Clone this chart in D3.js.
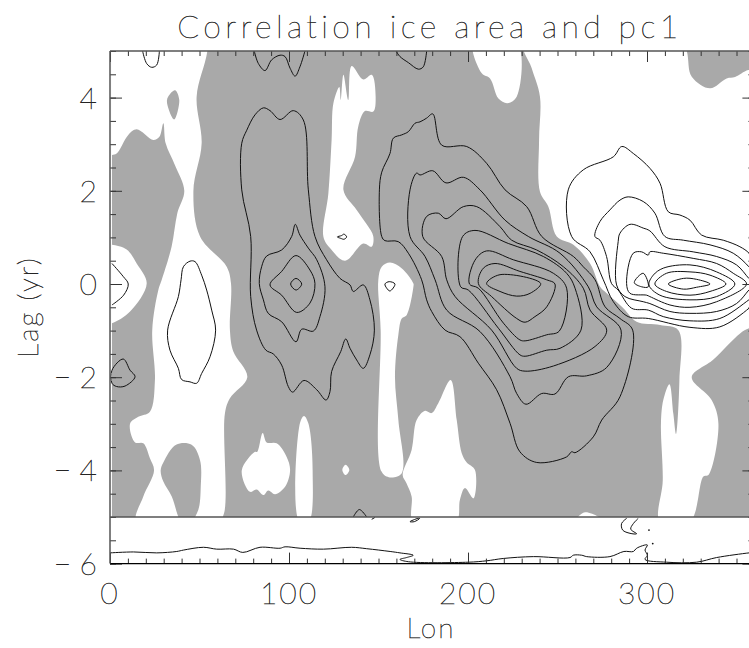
<!DOCTYPE html>
<html>
<head>
<meta charset="utf-8">
<script src="https://cdn.jsdelivr.net/npm/d3@7"></script>
<style>
  html, body { margin: 0; padding: 0; background: #fff; overflow: hidden; }
  text { font-family: Lato, "Open Sans", sans-serif; font-weight: 100; fill: #222; stroke: #222; stroke-width: 0.45; opacity: 0.99; }
</style>
</head>
<body>
<svg width="749" height="648"></svg>
<script>
// tick labels
const lonLabels = [0, 100, 200, 300];
const lagLabels = [4, 2, 0, -2, -4, -6];

// white (not significant) areas, [lon, lag]
const whiteLeft = [[-2,6],[56,6],[54.4,5],[48.4,4.02],[51.2,3.02],[46.6,2],[50.3,1.02],[65.2,.37],[67.6,.01],[67,-.99],[68.9,-1.45],[76.7,-2],[67,-2.45],[64.2,-2.78],[63.7,-4.92],[60.5,-5.1],[14.9,-5.1],[18.6,-4.56],[24.6,-4],[22.3,-3.74],[18.6,-3.42],[14,-3.4],[11.2,-3],[15.8,-2.85],[22.3,-2.74],[25.1,-2.06],[23.6,-.99],[27,-.13],[28.9,.09],[34.4,.8],[37.6,1.52],[41.5,2],[36.3,2.55],[31.1,3.02],[29.8,3.45],[27.6,3.16],[24.2,3.09],[14.9,3.32],[10.2,3.2],[3.7,2.8],[1.1,2.77],[-2,2.77]];
const whiteEdge = [[-2,.84],[1.1,.84],[9.3,.74],[14.9,.44],[20.5,.01],[11.2,-.59],[1.1,-.84],[-2,-.84]];
const whiteMid = [[135,4.68],[141.5,4.39],[146.2,4.49],[148.4,4.02],[147.1,3.7],[142.4,3.71],[138.7,3.38],[136.9,2.73],[130.4,2.02],[137.8,1.59],[143.4,1.28],[147.1,1.02],[146.2,.8],[141.5,.87],[131.3,.5],[122.9,.77],[119.2,1.02],[122,1.95],[123.8,3.09],[124.8,3.88],[128.1,4.23],[128.9,3.95],[130.4,4.49],[133.1,3.95]];
const whiteStrip = [[108.4,-2.83],[110.8,-2.99],[113.2,-4],[111,-5.1],[105.8,-5.1],[106.1,-2.99]];
const whiteBlob = [[73.6,-4],[81,-3.6],[82.3,-3.6],[85.3,-3.2],[87.5,-3.4],[93.1,-3.42],[98.7,-3.71],[100.6,-4],[97.8,-4.35],[92.2,-4.51],[88.4,-4.43],[85.7,-4.53],[81.9,-4.41],[78.2,-4.46]];
const whiteDot = [[129.8,-3.99],[131.6,-3.88],[133.7,-3.99],[131.6,-4.1]];
const whiteColumn = [[149.9,.09],[151.8,.37],[156.4,.46],[162.9,.34],[169.5,.01],[169.5,-.06],[165.7,-.67],[163,-.74],[161.1,-1.09],[159.2,-1.99],[161.1,-2.92],[163,-4.06],[156.4,-4.15],[151.8,-4.03],[151.2,-.99]];
const whiteLower = [[163.5,-4.1],[168.5,-3.56],[171.3,-2.92],[176,-2.72],[179.7,-2.77],[183.4,-2.56],[190.3,-2.06],[193.7,-2.92],[196.5,-3.63],[199.3,-3.83],[203.9,-3.99],[203,-4.6],[198.3,-4.38],[195.5,-4.63],[193.3,-5.1],[169.5,-5.1],[168.5,-4.56],[165.7,-4.28]];
const whiteTop = [[203,5.2],[207.7,4.52],[212.3,4.41],[217,3.98],[222,3.88],[227.2,4.02],[227.2,5.2]];
const whiteBump = [[260.7,-5.05],[265.4,-4.9],[274.7,-5.05]];
const whiteRight = [[231,5.2],[235.6,4.63],[240.2,4.02],[239.7,3.09],[240.2,1.98],[244.9,1.66],[249.6,1.02],[258.9,.84],[268.2,.44],[273.8,-.06],[277.5,-.2],[286.8,-.52],[294.2,-.81],[307.3,-.88],[317.5,-.99],[318.1,-2.06],[316.2,-3.22],[314.7,-2.78],[312.5,-2.15],[309.1,-2.49],[307.8,-2.99],[308.8,-4.21],[307.3,-5.1],[324,-5.1],[331.5,-4.13],[334.3,-4.1],[339.9,-3],[336.1,-2.49],[325,-2],[337.1,-1.62],[352,-1.06],[357,-.95],[365,-.9],[365,4.59],[356.6,4.59],[349.2,4.44],[344.5,4.41],[335.2,4.2],[325,4.45],[319,5.2]];

// gray islands inside the white areas
const grayA = [[32,3.98],[36.3,4.16],[38.7,3.95],[35.8,3.53],[32.6,3.77]];
const grayB = [[28.3,-4],[29.8,-3.83],[36.9,-3.45],[45.6,-3.45],[50.3,-3.78],[50.7,-4.35],[49.3,-4.85],[45.1,-5.1],[40,-5.1],[34.5,-4.56],[29.8,-4.24]];
const grayC = [[360,1.3],[357,1],[360,1]];

// closed contours
const posA = [[85.7,3.78],[89.4,3.72],[95,3.53],[102.4,3.72],[108,3.52],[110.8,2.02],[114.5,1.02],[121,.52],[128.5,.12],[134.1,-.02],[135.9,-.16],[141.5,-.02],[145.2,-.34],[147.7,-.99],[145.2,-1.52],[141.5,-1.81],[137.8,-1.63],[134.1,-1.38],[131.7,-1.18],[128.9,-1.45],[123.8,-1.88],[122.9,-2.31],[120.7,-2.49],[115.5,-2.27],[108.4,-2.07],[102,-2.32],[99.6,-2.2],[95.9,-1.74],[91.2,-1.5],[87.1,-1.42],[81.9,-.99],[78.6,-.27],[78.6,1.02],[73.6,2.02],[73.6,3.02],[76.4,3.3],[81,3.63]];
const posB = [[103.5,1.28],[101.5,1.02],[95.9,.73],[87.5,.6],[84.7,.37],[83.4,.01],[85.7,-.34],[88.4,-.63],[95.9,-.81],[103.9,-1.24],[107.1,-.97],[113.6,-1.01],[117.3,-.7],[120.1,-.06],[115.5,.52],[110.8,.77],[106.1,1.05]];
const posC = [[103.9,.61],[111.7,.3],[114.5,.01],[111.7,-.41],[104.3,-.61],[95.9,-.24],[89.4,-.02],[95.9,.27]];
const posD = [[103.9,.12],[107.1,0],[103.9,-.13],[100.9,0]];
const loopA = [[127,1.01],[129.4,1.04],[130.7,1.07],[132.2,1.01],[130.7,.96],[128.9,.98]];
const loopB = [[153.6,0],[156,.05],[159.2,0],[156.4,-.15],[154.6,-.09]];
const loopC = [[44.7,.49],[47.5,.48],[51.2,.19],[54,-.13],[56.8,-.56],[59,-.99],[55.9,-1.56],[51.2,-1.92],[48.4,-2.13],[44.7,-2.1],[40,-2.05],[38.2,-1.81],[33.5,-1.42],[32.2,-.99],[38.2,-.27],[39.7,.09],[41,.37]];
const loopD = [[1.1,-1.85],[7.4,-1.61],[11.2,-1.85],[14,-1.99],[8.4,-2.19],[3.7,-2.2],[1.1,-2.13]];
const loopE = [[167.6,-5.1],[172,-5.03],[173,-5.03],[170,-5.1]];

const c1 = [[150.5,2.02],[151.8,1.02],[153.6,.93],[161,.91],[166.7,.66],[174.1,.09],[176.9,-.34],[179.7,-.59],[187.2,-.99],[195.5,-1.13],[205.8,-1.7],[216,-2.27],[223.5,-2.99],[229,-3.6],[238.4,-3.83],[255.1,-3.71],[257.9,-3.6],[259.8,-3.62],[270,-3.28],[274.7,-2.92],[284.9,-2.42],[292,-.99],[284.9,-.74],[276.6,-.49],[271,.09],[264.4,.37],[258.9,.59],[241.2,1.02],[232.8,1.66],[220.7,2.02],[210.4,2.59],[199.3,2.95],[185.3,2.98],[180.3,3.65],[176.9,3.56],[173.2,3.48],[170.4,3.45],[166.7,3.27],[163,3.2],[158.3,3.13],[156.4,2.8],[151.8,2.4]];
const c2 = [[180.3,2.43],[187.7,2.17],[197.4,2.29],[206.7,2.02],[220.7,1.37],[233.7,1.02],[251.4,.66],[267.2,-.06],[271.9,-.49],[285.5,-.99],[277.5,-1.79],[266.3,-1.97],[256.1,-1.99],[248.6,-2.36],[241.2,-2.35],[232.4,-2.58],[227.2,-2.35],[223.5,-1.99],[206.7,-1.02],[188.1,-.56],[181.6,.09],[176,.59],[167.6,1.02],[167.6,2.02],[171.3,2.38],[173.2,2.34]];
const c3 = [[174.7,1.02],[176.9,1.45],[183.4,1.52],[187.7,1.4],[197.4,1.66],[204.9,1.66],[217.9,1.23],[224.4,.94],[238.4,.73],[253.3,.37],[264.4,-.09],[268.2,-.56],[277.5,-.99],[271,-1.34],[247.7,-1.76],[231.9,-1.87],[227.2,-1.81],[213.2,-.99],[192.8,-.27],[188.1,.09],[185.3,.59]];
const c4 = [[195.9,-.06],[197,1.02],[203.9,1.15],[222.5,.87],[242.1,.59],[255.1,.23],[259.8,-.09],[263.1,-.99],[251.4,-1.38],[244,-1.42],[231.9,-1.55],[229,-1.52],[217,-.95],[200.2,-.13]];
const c5 = [[200.8,0],[203.9,.51],[210.4,.71],[225.3,.52],[247.7,.23],[255.1,-.09],[251,-1.01],[244,-1.09],[231.9,-1.22],[229,-1.2],[219.8,-.84],[205.8,-.09]];
const c6 = [[205.8,.01],[208.6,.34],[215.1,.44],[229,.27],[243.9,.09],[248.6,0],[244,-.49],[237.4,-.7],[231.9,-.82],[227.2,-.74],[213.2,-.27]];
const c7 = [[210.4,.01],[217.9,.2],[240.6,.01],[234.7,-.2],[227.2,-.26],[217.9,-.16]];

const n1 = [[311.9,0],[320.3,.12],[327.7,.1],[335.2,0],[327.7,-.07],[320.3,-.11]];
const n2 = [[304.4,0],[310.9,.23],[324,.26],[335.2,.19],[344.1,0],[335.2,-.16],[324,-.24],[310.9,-.16]];
const n3 = [[301.1,-.02],[303.5,.19],[309.1,.34],[324,.41],[338.9,.26],[349.1,0],[338.9,-.27],[324,-.34],[307.2,-.24]];
const n3b = [[292.9,.03],[297.9,.23],[300.7,-.06],[297,-.06]];
const n4 = [[297,.69],[300.7,.62],[301.6,.69],[309.1,.66],[325.8,.55],[338.9,.44],[348.2,.23],[355.6,0],[338.9,-.38],[324,-.5],[312.8,-.45],[301.6,-.27],[299.8,-.24],[290.5,-.2],[288.6,.01],[292.3,.66]];
const n5 = [[290.5,1.28],[297.9,1.2],[301.6,1.14],[310,.8],[325.8,.69],[338.9,.59],[350,.41],[356.9,.12],[360,0],[356.9,-.13],[350,-.42],[338.9,-.59],[324,-.63],[312.8,-.59],[301.6,-.42],[297.9,-.38],[287.7,-.27],[283,-.02],[283.9,.91],[284.9,1.09]];
const n6 = [[289.5,1.87],[297.9,1.77],[304.4,1.52],[310,1.02],[320.3,.94],[335.2,.84],[348.2,.66],[356.9,.37],[360,.2],[360,-.25],[356.9,-.34],[340.7,-.74],[324,-.79],[309.1,-.7],[300.7,-.56],[291.4,-.52],[283.9,-.13],[280.2,.01],[277.4,.59],[273.7,.94],[270.9,1.02],[273.7,1.34],[279.3,1.59],[284.9,1.8]];
const n7 = [[285.9,2.95],[292.4,2.8],[301.7,2.48],[307.3,2.16],[311.9,1.55],[318.4,1.48],[324,1.37],[330.5,1.05],[342.6,.94],[351.9,.8],[357,.66],[360,.45],[360,-.4],[357,-.52],[340.7,-.92],[324,-.93],[300.7,-.74],[289.5,-.7],[281.2,-.38],[275.6,.09],[268.2,.69],[257.9,1.02],[256,2.02],[264.4,2.45],[281.2,2.73]];

// open contours
const topA = [[18.2,5],[20.5,4.73],[23.3,4.65],[26.1,4.7],[27.6,5]];
const topB = [[80.6,5],[82.9,4.73],[86.6,4.58],[90.3,4.81],[95,4.91],[97.8,4.88],[100.6,4.63],[103.4,4.46],[106.1,4.66],[108.9,5]];
const topC = [[159.8,5],[162,4.88],[166.7,4.75],[172.3,4.61],[175,4.66],[176.9,5]];
const edgeA = [[1.1,.44],[7.4,.16],[10.2,0],[7.6,-.24],[1.1,-.45]];
const lowA = [[135.9,-5],[139.3,-4.84],[143.4,-5]];
const lowB = [[146.2,-5.05],[148,-5.01]];
const lowC = [[288.6,-5.03],[285.8,-5.14],[286.4,-5.28],[290.5,-5.35],[294.2,-5.36],[290.9,-5.26],[292.4,-5.14],[295.1,-5.03]];
const stripA = [[0,-5.77],[13.1,-5.75],[26.1,-5.77],[37.3,-5.74],[41,-5.71],[52.2,-5.65],[59.6,-5.69],[69,-5.69],[74.2,-5.76],[83.8,-5.65],[95,-5.67],[97.8,-5.64],[106.2,-5.67],[119.2,-5.69],[135,-5.65],[143.4,-5.68],[156.5,-5.74],[162,-5.77],[169.4,-5.82],[165.7,-5.87],[162,-5.91],[166.7,-5.96],[200.2,-5.97],[210.4,-5.94],[219.7,-5.89],[236.5,-5.85],[257,-5.87],[258.8,-5.82],[263.5,-5.82],[266.3,-5.85],[279.3,-5.85],[287.1,-5.74],[292.4,-5.74],[294.2,-5.67],[300.2,-5.6],[298.9,-5.71],[300.2,-5.82],[298.9,-5.91],[311,-5.97],[327.7,-5.97],[338.9,-5.87],[357,-5.77],[360,-5.76]];
const specks = [[301.1,-5.28],[303.2,-5.57]];

const whiteAreas = [whiteLeft, whiteEdge, whiteMid, whiteStrip, whiteBlob, whiteDot, whiteColumn, whiteLower, whiteTop, whiteBump, whiteRight];
const grayAreas = [grayA, grayB, grayC];
const closedLines = [posA, posB, posC, posD, loopA, loopB, loopC, loopD, loopE, c1, c2, c3, c4, c5, c6, c7, n1, n2, n3, n3b, n4, n5, n6, n7];
const openLines = [topA, topB, topC, edgeA, lowA, lowB, lowC, stripA];

const gris = "#a9a9a9";

const svg = d3.select("svg");
const x = d3.scaleLinear().domain([0, 360]).range([110, 754.4]);
const y = d3.scaleLinear().domain([-6, 5]).range([563.6, 51]);

// recorte do campo sombreado
svg.append("clipPath").attr("id", "campo").append("rect")
  .attr("x", x(1)).attr("y", y(5))
  .attr("width", x(360) - x(1)).attr("height", y(-5) - y(5));

const campo = svg.append("g").attr("clip-path", "url(#campo)");

// fundo cinza entre -5 e 5
campo.append("rect")
  .attr("x", x(1)).attr("y", y(5))
  .attr("width", x(360) - x(1)).attr("height", y(-5) - y(5))
  .attr("fill", gris);

const closed = d3.line().x(d => x(d[0])).y(d => y(d[1])).curve(d3.curveCatmullRomClosed.alpha(0.5));
const open = d3.line().x(d => x(d[0])).y(d => y(d[1])).curve(d3.curveCatmullRom.alpha(0.5));

campo.selectAll("path.white").data(whiteAreas).enter().append("path")
  .attr("class", "white").attr("d", closed).attr("fill", "#fff");
campo.selectAll("path.gray").data(grayAreas).enter().append("path")
  .attr("class", "gray").attr("d", closed).attr("fill", gris);

svg.selectAll("path.closed").data(closedLines).enter().append("path")
  .attr("class", "closed").attr("d", closed)
  .attr("fill", "none").attr("stroke", "#111").attr("stroke-width", 1);
svg.selectAll("path.open").data(openLines).enter().append("path")
  .attr("class", "open").attr("d", open)
  .attr("fill", "none").attr("stroke", "#111").attr("stroke-width", 1);
svg.selectAll("circle").data(specks).enter().append("circle")
  .attr("cx", d => x(d[0])).attr("cy", d => y(d[1])).attr("r", 0.9).attr("fill", "#111");

// eixos: marcas menores e maiores nos quatro lados
const lonMinor = d3.range(0, 361, 10);
const lagMinor = d3.range(-6, 5.01, 0.5);
const lonMajor = lonLabels;
const lagMajor = lagLabels;

function eixo(gen, values, size, dx, dy) {
  const g = svg.append("g").attr("transform", `translate(${dx},${dy})`)
    .call(gen.tickValues(values).tickSize(size).tickFormat(""));
  g.selectAll("path").remove();
  g.selectAll("line").attr("stroke", "#333").attr("stroke-width", 1);
  return g;
}
eixo(d3.axisTop(x), lonMinor, 5, 0, y(-6));
eixo(d3.axisTop(x), lonMajor, 11, 0, y(-6));
eixo(d3.axisBottom(x), lonMinor, 5, 0, y(5));
eixo(d3.axisBottom(x), lonMajor, 11, 0, y(5));
eixo(d3.axisRight(y), lagMinor, 6, x(0), 0);
eixo(d3.axisRight(y), lagMajor, 12, x(0), 0);
eixo(d3.axisLeft(y), lagMinor, 6, x(360), 0);
eixo(d3.axisLeft(y), lagMajor, 12, x(360), 0);

// moldura e linha em -5
const moldura = [
  [[0, 5], [360, 5], "#555", 1.5],
  [[0, -5], [360, -5], "#555", 1.5],
  [[0, -6], [360, -6], "#000", 1.2],
  [[0, -6], [0, 5], "#555", 1.5]
];
svg.selectAll("line.frame").data(moldura).enter().append("line")
  .attr("class", "frame")
  .attr("x1", d => x(d[0][0])).attr("y1", d => y(d[0][1]))
  .attr("x2", d => x(d[1][0])).attr("y2", d => y(d[1][1]))
  .attr("stroke", d => d[2]).attr("stroke-width", d => d[3]);

// textos
svg.selectAll("text.lon").data(lonLabels).enter().append("text")
  .attr("class", "lon").attr("x", d => x(d)).attr("y", 604)
  .attr("text-anchor", "middle").attr("font-size", 30)
  .attr("letter-spacing", 2).text(d => d);
svg.selectAll("text.lag").data(lagLabels).enter().append("text")
  .attr("class", "lag").attr("x", 97).attr("y", d => y(d) + 11)
  .attr("text-anchor", "end").attr("font-size", 30)
  .text(d => d < 0 ? "\u2212 " + (-d) : d);

svg.append("text").attr("x", 430).attr("y", 38).attr("text-anchor", "middle")
  .attr("font-size", 32).attr("letter-spacing", 4.4).text("Correlation ice area and pc1");
svg.append("text").attr("x", 431).attr("y", 638).attr("text-anchor", "middle")
  .attr("font-size", 28).attr("letter-spacing", 2).text("Lon");
svg.append("text").attr("transform", "translate(38,307) rotate(-90)").attr("text-anchor", "middle")
  .attr("font-size", 28).attr("letter-spacing", 2).text("Lag (yr)");
</script>
</body>
</html>
